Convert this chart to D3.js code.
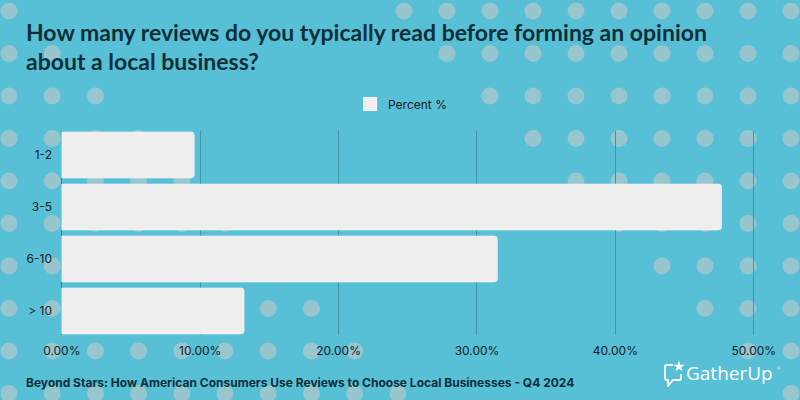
<!DOCTYPE html>
<html>
<head>
<meta charset="utf-8">
<script src="https://cdn.jsdelivr.net/npm/d3@7"></script>
<style>
  html, body { margin: 0; padding: 0; background: #58c0d6; }
  svg { display: block; }
</style>
</head>
<body>
<svg width="800" height="400"></svg>
<script>
const categories = ["1-2", "3-5", "6-10", "> 10"];
const percents = [9.6, 47.7, 31.5, 13.2];
const tickValues = [0, 10, 20, 30, 40, 50];
const seriesName = "Percent %";
const titleLines = ["How many reviews do you typically read before forming an opinion", "about a local business?"];
const footer = "Beyond Stars: How American Consumers Use Reviews to Choose Local Businesses - Q4 2024";

const svg = d3.select("svg");
const ink = "#0f2f37";

svg.append("rect").attr("width", 800).attr("height", 400).attr("fill", "#58c0d6");

// decorative dots, two triangles
const dots = svg.append("g").attr("fill", "#97c6cf");
for (let r = 0; r < 10; r++) {
  for (let c = 0; c <= r; c++) {
    dots.append("circle").attr("cx", 9 + 43.2 * c).attr("cy", 11 + 42.5 * r).attr("r", 8.5);
  }
  for (let c = r; c < 10; c++) {
    dots.append("circle").attr("cx", 404 + 43 * c).attr("cy", 11 + 42.5 * r).attr("r", 8.5);
  }
}

// title
svg.append("text")
  .attr("font-family", "Lato, sans-serif").attr("font-weight", "bold")
  .attr("font-size", 23).attr("fill", ink)
  .selectAll("tspan").data(titleLines).enter().append("tspan")
  .attr("x", 26).attr("y", (d, i) => 41 + i * 29)
  .text(d => d);

// legend
svg.append("rect").attr("x", 363.5).attr("y", 97.5).attr("width", 13).attr("height", 13)
  .attr("fill", "#eeeeee").attr("stroke", "#f7f7f7");
svg.append("text").attr("x", 388).attr("y", 108.5)
  .attr("font-family", "Inter, sans-serif").attr("font-size", 12).attr("fill", "#1b1b1b")
  .text(seriesName);

const x = d3.scaleLinear().domain([0, 50]).range([61.3, 753.3]);
const y = d3.scaleBand().domain(categories).range([129, 337]).paddingInner(0.12).paddingOuter(0.06);

// grid
const grid = svg.append("g");
grid.selectAll("line").data(tickValues).enter().append("line")
  .attr("x1", d => Math.round(x(d)) + 0.5).attr("x2", d => Math.round(x(d)) + 0.5)
  .attr("y1", 131).attr("y2", 335)
  .attr("stroke", d => d === 0 ? "#2f7e8f" : "#3f96a8").attr("stroke-width", 1);

// bars, rounded at the end
const rad = 3;
svg.append("g").selectAll("path").data(percents).enter().append("path")
  .attr("d", (d, i) => {
    const x0 = x(0) + 0.5, x1 = x(d), y0 = y(categories[i]), h = y.bandwidth();
    return `M${x0},${y0}H${x1 - rad}Q${x1},${y0} ${x1},${y0 + rad}V${y0 + h - rad}Q${x1},${y0 + h} ${x1 - rad},${y0 + h}H${x0}Z`;
  })
  .attr("fill", "#eeeeee").attr("stroke", "#f4f4f4").attr("stroke-width", 0.8);

// axes
const xAxis = svg.append("g").attr("transform", "translate(0,339)")
  .call(d3.axisBottom(x).tickValues(tickValues).tickSize(0).tickPadding(7).tickFormat(d => d.toFixed(2) + "%"));
xAxis.select(".domain").remove();
xAxis.selectAll("text").attr("font-family", "Inter, sans-serif").attr("font-size", 12).attr("fill", "#1b1b1b");

const yAxis = svg.append("g").attr("transform", "translate(52,0)")
  .call(d3.axisLeft(y).tickSize(0).tickPadding(0));
yAxis.select(".domain").remove();
yAxis.selectAll("text").attr("font-family", "Inter, sans-serif").attr("font-size", 12).attr("fill", "#1b1b1b");

// footer
svg.append("text").attr("x", 26).attr("y", 387)
  .attr("font-family", "Inter, sans-serif").attr("font-weight", "bold").attr("font-size", 12)
  .attr("fill", ink).text(footer);

// logo
const logo = svg.append("g").attr("fill", "none").attr("stroke", "#ffffff").attr("stroke-width", 1.8)
  .attr("stroke-linejoin", "round");
logo.append("path").attr("d", "M673,365 H667 Q665,365 665,367 V378 Q665,380 667,380 H668 V386 L673,380 H679 Q681,380 681,378 V374");
const star = d3.symbol().type(d3.symbolStar).size(40);
svg.append("path").attr("d", star()).attr("transform", "translate(679,366.5)").attr("fill", "#ffffff");
svg.append("text").attr("x", 686).attr("y", 380)
  .attr("font-family", "'Open Sans', sans-serif").attr("font-size", 19).attr("fill", "#ffffff")
  .text("GatherUp");
svg.append("text").attr("x", 777).attr("y", 370)
  .attr("font-family", "'Open Sans', sans-serif").attr("font-size", 4).attr("fill", "#ffffff")
  .text("®");
</script>
</body>
</html>
